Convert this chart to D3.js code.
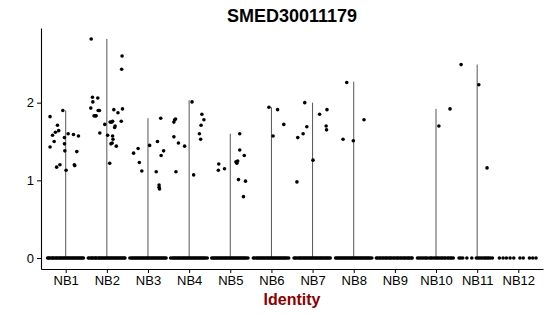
<!DOCTYPE html>
<html>
<head>
<meta charset="utf-8">
<script src="https://cdn.jsdelivr.net/npm/d3@7"></script>
<style>
  body { margin: 0; background: #fff; }
  svg { font-family: "Liberation Sans", Arial, sans-serif; }
</style>
</head>
<body>
<div id="chart"></div>
<script>
const groups = ["NB1", "NB2", "NB3", "NB4", "NB5", "NB6", "NB7", "NB8", "NB9", "NB10", "NB11", "NB12"];
const yTicks = [0, 1, 2];
const violinMax = [1.90, 2.82, 1.80, 2.03, 1.60, 1.94, 2.00, 2.27, 0, 1.92, 2.49, 0];

// expressed cells: [jitter offset, value]
const expressedNB1 = [[-0.38,1.82],[-0.07,1.90],[-0.20,1.71],[-0.17,1.64],[-0.25,1.62],[-0.32,1.58],[-0.03,1.55],[0.06,1.60],[0.19,1.59],[0.31,1.57],[-0.28,1.50],[-0.03,1.47],[-0.38,1.43],[-0.02,1.38],[0.27,1.37],[-0.14,1.20],[-0.22,1.17],[0.21,1.20],[0.22,1.19],[0.01,1.13]];
const expressedNB2 = [[-0.38,2.82],[0.37,2.60],[0.36,2.43],[-0.35,2.07],[-0.22,2.06],[-0.34,2.01],[-0.39,1.93],[-0.21,1.90],[-0.18,1.90],[0.17,1.91],[0.27,1.87],[0.38,1.92],[-0.31,1.83],[-0.28,1.83],[-0.26,1.83],[0.08,1.75],[0.12,1.75],[0.14,1.76],[-0.05,1.72],[0.20,1.70],[0.19,1.68],[0.35,1.76],[-0.17,1.61],[0.02,1.58],[0.14,1.57],[0.15,1.53],[0.13,1.48],[0.10,1.47],[0.23,1.44],[0.07,1.22]];
const expressedNB3 = [[-0.35,1.35],[-0.24,1.41],[-0.21,1.23],[-0.15,1.12],[0.04,1.45],[0.23,1.50],[0.31,1.80],[0.32,1.32],[0.38,1.38],[0.20,1.11],[0.27,0.94],[0.27,0.91],[0.28,0.89]];
const expressedNB4 = [[-0.37,1.75],[-0.35,1.78],[-0.33,1.79],[-0.37,1.56],[-0.26,1.48],[-0.11,1.44],[-0.32,1.11],[0.07,2.01],[0.31,1.85],[0.36,1.78],[0.29,1.71],[0.25,1.60],[0.28,1.53],[0.11,1.07]];
const expressedNB5 = [[0.23,1.60],[-0.28,1.21],[-0.29,1.13],[-0.14,1.15],[0.23,1.39],[0.34,1.32],[0.14,1.24],[0.16,1.22],[0.18,1.25],[0.15,1.23],[0.20,1.01],[0.37,0.99],[0.32,0.79]];
const expressedNB6 = [[-0.06,1.94],[0.15,1.91],[0.30,1.72],[0.04,1.57]];
const expressedNB7 = [[-0.19,2.00],[0.17,1.85],[0.35,1.91],[-0.14,1.69],[-0.23,1.60],[-0.36,1.55],[0.33,1.70],[0.34,1.65],[0.01,1.26],[-0.38,0.98]];
const expressedNB8 = [[-0.17,2.26],[-0.26,1.53],[-0.01,1.51],[0.25,1.78]];
const expressedNB9 = [];
const expressedNB10 = [[0.07,1.70],[0.34,1.92]];
const expressedNB11 = [[-0.39,2.49],[0.04,2.23],[0.24,1.16]];
const expressedNB12 = [];

// jitter offsets of cells at zero
const zeroNB1 = [-0.44,-0.41,-0.39,-0.35,-0.32,-0.30,-0.26,-0.23,-0.21,-0.17,-0.14,-0.11,-0.08,-0.05,-0.02,0.01,0.04,0.07,0.10,0.13,0.16,0.19,0.22,0.25,0.28,0.31,0.34,0.37,0.40,0.43];
const zeroNB2 = [-0.45,-0.42,-0.38,-0.36,-0.33,-0.29,-0.27,-0.24,-0.20,-0.18,-0.15,-0.12,-0.09,-0.06,-0.03,0.00,0.03,0.06,0.09,0.12,0.15,0.18,0.21,0.24,0.27,0.30,0.33,0.36,0.39,0.42,0.44];
const zeroNB3 = [-0.44,-0.40,-0.37,-0.34,-0.31,-0.28,-0.25,-0.22,-0.19,-0.16,-0.13,-0.10,-0.07,-0.04,-0.01,0.02,0.05,0.08,0.11,0.14,0.17,0.20,0.23,0.26,0.29,0.32,0.35,0.38,0.41,0.44];
const zeroNB4 = [-0.45,-0.41,-0.38,-0.35,-0.32,-0.29,-0.26,-0.23,-0.20,-0.17,-0.14,-0.11,-0.08,-0.05,-0.02,0.01,0.04,0.07,0.10,0.13,0.16,0.19,0.22,0.25,0.28,0.31,0.34,0.37,0.40,0.44];
const zeroNB5 = [-0.45,-0.42,-0.39,-0.36,-0.33,-0.30,-0.27,-0.24,-0.21,-0.18,-0.15,-0.12,-0.09,-0.06,-0.03,0.00,0.03,0.06,0.09,0.12,0.15,0.18,0.21,0.24,0.27,0.30,0.33,0.36,0.39,0.43];
const zeroNB6 = [-0.44,-0.41,-0.37,-0.34,-0.31,-0.28,-0.25,-0.22,-0.19,-0.16,-0.13,-0.10,-0.07,-0.04,-0.01,0.02,0.05,0.08,0.11,0.14,0.17,0.20,0.23,0.26,0.29,0.32,0.35,0.38,0.42];
const zeroNB7 = [-0.45,-0.42,-0.39,-0.35,-0.32,-0.29,-0.26,-0.23,-0.20,-0.17,-0.14,-0.11,-0.08,-0.05,-0.02,0.01,0.04,0.07,0.10,0.13,0.16,0.19,0.22,0.25,0.28,0.31,0.34,0.37,0.40,0.43];
const zeroNB8 = [-0.44,-0.41,-0.38,-0.35,-0.32,-0.29,-0.26,-0.23,-0.20,-0.17,-0.14,-0.11,-0.08,-0.05,-0.02,0.01,0.04,0.07,0.10,0.13,0.16,0.19,0.22,0.25,0.28,0.31,0.34,0.37,0.40,0.44];
const zeroNB9 = [-0.45,-0.42,-0.38,-0.35,-0.31,-0.28,-0.24,-0.21,-0.18,-0.14,-0.11,-0.08,-0.04,-0.01,0.03,0.06,0.09,0.13,0.16,0.20,0.23,0.26,0.30,0.33,0.36,0.40,0.42];
const zeroNB10 = [-0.45,-0.41,-0.37,-0.33,-0.29,-0.25,-0.22,-0.17,-0.13,-0.10,-0.06,-0.02,0.02,0.05,0.09,0.13,0.16,0.20,0.23,0.28,0.31,0.35,0.38,0.42];
const zeroNB11 = [-0.44,-0.40,-0.35,-0.25,-0.13,-0.02,0.02,0.06,0.10,0.14,0.18,0.21,0.25,0.28,0.32,0.37];
const zeroNB12 = [-0.46,-0.37,-0.29,-0.20,-0.11,0.04,0.12,0.27,0.35,0.43];

const expressed = [expressedNB1, expressedNB2, expressedNB3, expressedNB4, expressedNB5, expressedNB6,
                   expressedNB7, expressedNB8, expressedNB9, expressedNB10, expressedNB11, expressedNB12];
const zeros = [zeroNB1, zeroNB2, zeroNB3, zeroNB4, zeroNB5, zeroNB6,
               zeroNB7, zeroNB8, zeroNB9, zeroNB10, zeroNB11, zeroNB12];

const width = 550, height = 316;
const margin = { top: 28, right: 7, bottom: 47, left: 41 };

const svg = d3.select("#chart")
    .append("svg")
    .attr("width", width)
    .attr("height", height);

// discrete positions 1..12 with ggplot's 0.6 expansion
const x = d3.scaleLinear()
    .domain([0.4, groups.length + 0.6])
    .range([margin.left, width - margin.right]);

const yMax = d3.max(violinMax);
const y = d3.scaleLinear()
    .domain([-0.05 * yMax, yMax * 1.05])
    .range([height - margin.bottom, margin.top]);

// flatten points
const points = [];
groups.forEach((g, i) => {
    zeros[i].forEach(o => points.push({ pos: i + 1 + o, value: 0 }));
    expressed[i].forEach(([o, v]) => points.push({ pos: i + 1 + o, value: v }));
});

// thin violins
svg.append("g")
    .selectAll("line")
    .data(groups.map((g, i) => ({ pos: i + 1, max: violinMax[i] })).filter(d => d.max > 0))
    .enter()
    .append("line")
    .attr("x1", d => x(d.pos))
    .attr("x2", d => x(d.pos))
    .attr("y1", y(0))
    .attr("y2", d => y(d.max))
    .attr("stroke", "#555")
    .attr("stroke-width", 1);

svg.append("g")
    .selectAll("circle")
    .data(points)
    .enter()
    .append("circle")
    .attr("cx", d => x(d.pos))
    .attr("cy", d => y(d.value))
    .attr("r", 1.8)
    .attr("fill", "#000");

// axes
const xAxis = svg.append("g")
    .attr("transform", `translate(0,${height - margin.bottom})`)
    .call(d3.axisBottom(x).tickValues(d3.range(1, groups.length + 1)).tickFormat(d => groups[d - 1]).tickSize(4).tickSizeOuter(0));

const yAxis = svg.append("g")
    .attr("transform", `translate(${margin.left},0)`)
    .call(d3.axisLeft(y).tickValues(yTicks).tickFormat(d3.format("d")).tickSize(4).tickSizeOuter(0));

[xAxis, yAxis].forEach(a => {
    a.select(".domain").attr("stroke", "#000").attr("stroke-width", 1.1);
    a.selectAll(".tick line").attr("stroke", "#000");
    a.selectAll(".tick text")
        .attr("fill", "#000")
        .attr("font-size", "13px")
        .attr("font-family", "Liberation Sans, Arial, sans-serif");
});

svg.append("text")
    .attr("x", (margin.left + width - margin.right) / 2)
    .attr("y", 22)
    .attr("text-anchor", "middle")
    .attr("font-size", "18px")
    .attr("font-weight", "bold")
    .text("SMED30011179");

svg.append("text")
    .attr("x", (margin.left + width - margin.right) / 2)
    .attr("y", 305)
    .attr("text-anchor", "middle")
    .attr("font-size", "16px")
    .attr("font-weight", "bold")
    .attr("fill", "#8B0000")
    .text("Identity");
</script>
</body>
</html>
